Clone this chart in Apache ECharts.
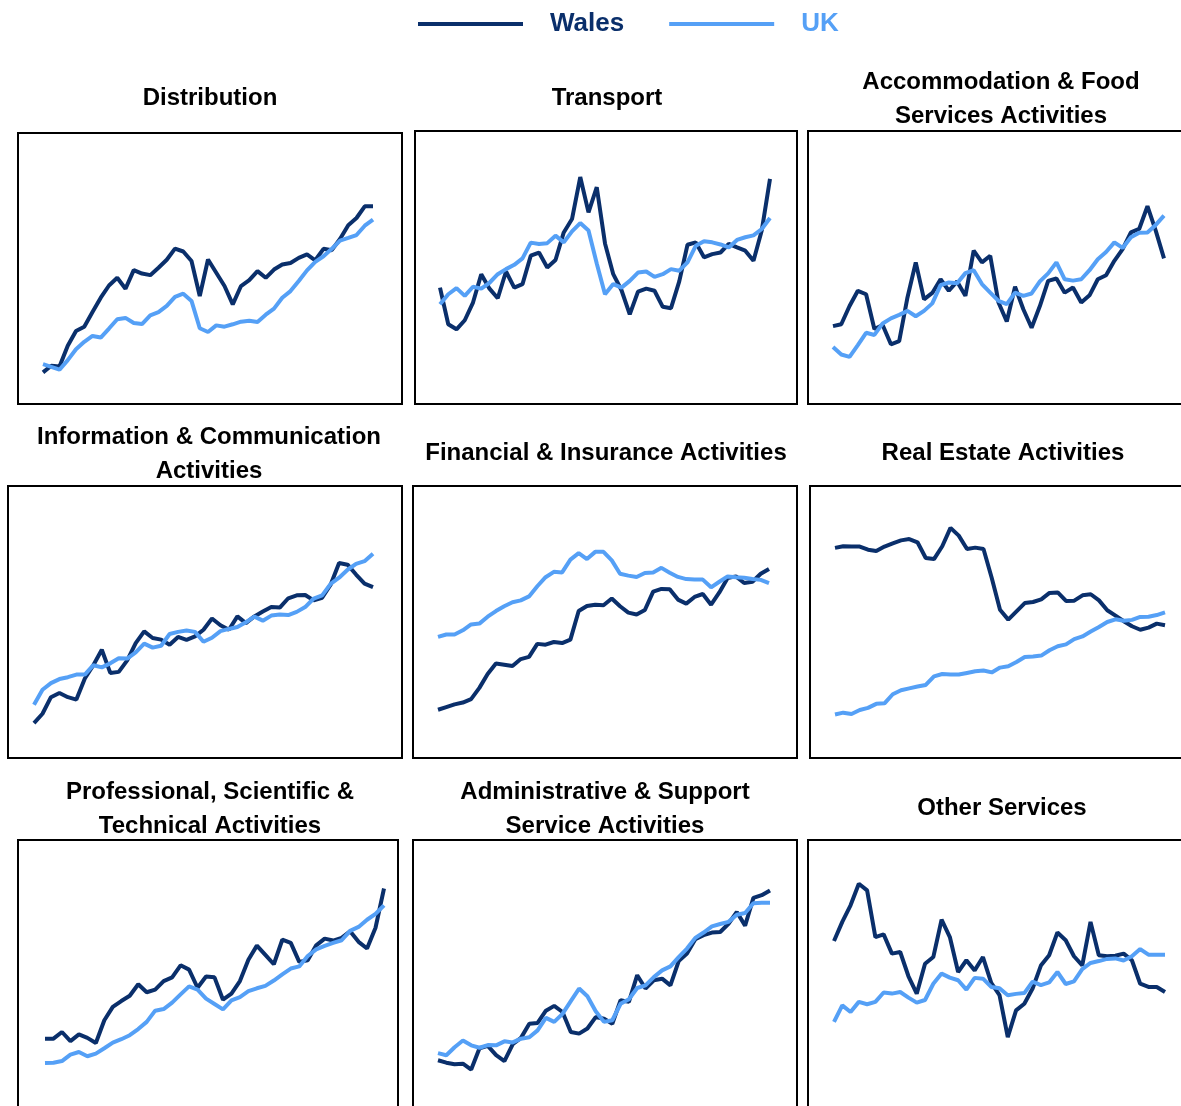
<!DOCTYPE html>
<html>
<head>
<meta charset="utf-8">
<title>Wales and UK by sector</title>
<script src="https://cdn.jsdelivr.net/npm/echarts@6/dist/echarts.min.js"></script>
<style>
  html, body { margin: 0; padding: 0; background: #fff; }
  #chart { width: 1181px; height: 1106px; }
</style>
</head>
<body>
<div id="chart"></div>
<script>
// half-yearly points, same timeline for every sector
var periods = ['1998 Q1', '1998 Q3', '1999 Q1', '1999 Q3', '2000 Q1', '2000 Q3', '2001 Q1', '2001 Q3',
  '2002 Q1', '2002 Q3', '2003 Q1', '2003 Q3', '2004 Q1', '2004 Q3', '2005 Q1', '2005 Q3',
  '2006 Q1', '2006 Q3', '2007 Q1', '2007 Q3', '2008 Q1', '2008 Q3', '2009 Q1', '2009 Q3',
  '2010 Q1', '2010 Q3', '2011 Q1', '2011 Q3', '2012 Q1', '2012 Q3', '2013 Q1', '2013 Q3',
  '2014 Q1', '2014 Q3', '2015 Q1', '2015 Q3', '2016 Q1', '2016 Q3', '2017 Q1', '2017 Q3', '2018 Q1'];

var sectors = ['Distribution', 'Transport', 'Accommodation & Food\nServices Activities',
  'Information & Communication\nActivities', 'Financial & Insurance Activities', 'Real Estate Activities',
  'Professional, Scientific &\nTechnical Activities', 'Administrative & Support\nService Activities', 'Other Services'];

// values (relative index, 0-102 range of each box)
var walesDistribution = [11.9,14.4,14.1,21.9,27.5,29.1,34.6,40,44.6,47.5,43.4,50.4,49.1,48.5,51.3,54.3,58.5,57.4,53.8,40.6,54.4,49.4,44.4,37.5,44.4,46.6,50,47.5,50.6,52.5,53.1,55,56.3,54.1,58.4,57.9,62.1,67.3,70,74.4,74.4];
var ukDistribution = [15,14,12.9,16.5,20.6,23.4,25.6,25,28.4,31.9,32.4,30.5,30.1,33.4,34.6,36.9,40.3,41.5,38.8,28.5,27.1,29.6,29.1,30,31,31.3,30.9,33.6,35.9,40,42.5,46.3,50.3,53.5,55.6,58.4,61.5,62.5,63.6,67.1,69.4];

var walesTransport = [43.5,29.8,27.9,31.3,37.9,48.5,43.1,39.5,49.5,43.5,44.8,55.4,56.6,51,53.8,64.1,69.1,84.8,71.6,81,60,48.5,42.5,33.5,42,43.1,42.3,36.3,35.8,45.8,59.5,60.4,54.8,56,56.6,59.8,58.5,57.3,53.5,64.8,84.1];
var ukTransport = [37.3,41,43.3,40.4,43.8,43.1,45.3,48.5,50.4,52,54.4,60.3,59.8,60.1,62.9,60.4,64.5,67.6,64.8,52.5,41,44.8,43.5,46,49.1,49.5,47.5,48.5,50.4,49.8,52.9,59.1,60.8,60.4,59.6,58.5,61.3,62.3,63,65.4,69.5];

var walesAccommodation = [29.1,29.8,36.6,42.3,41,28,29.5,22.3,23.5,39.8,52.9,39.1,41.5,46.6,42.3,45.8,40.4,57.3,52.9,55.4,37.9,30.8,43.8,35.4,28.5,36.6,46,46.9,41.6,43.5,37.9,40.6,46.6,48.1,53.5,57.9,64.1,65.4,73.9,64.8,54.4];
var ukAccommodation = [21.3,18.5,17.6,22,26.6,25.8,30.1,32,33.3,34.8,32.8,34.8,37.6,44.4,45.4,45.1,48.9,50,44.8,41.6,38.5,37.3,41.6,40.4,41.3,45.8,48.8,52.9,46.6,46.1,46.6,50,54.1,56.8,60.4,58.3,62.3,64,64.1,66.9,70.4];

var walesInformation = [13.1,16.6,22.8,24.4,22.8,21.9,29.8,34.8,40.6,31.9,32.3,36.6,43.1,47.5,45,44.4,42.5,45.4,44.3,45.6,48.1,52.3,49.8,48.1,53.1,50.6,53.1,54.9,56.6,56.4,59.9,61,61.1,59.1,60.1,65,73.1,72.5,68.8,65.4,64.1];
var ukInformation = [20,25.6,28.1,29.6,30.3,31.3,31.3,34.8,34,35.5,37.4,37.3,39.6,42.9,41.4,42.1,46.5,47.3,47.8,47.3,43.6,45.1,47.6,48.4,49.1,50.9,53,51.5,53.4,53.8,53.6,54.8,56.6,59.8,61,65.3,67.6,70.6,72.8,73.8,76.6];

var walesFinancial = [18.1,19.1,20.1,20.8,22.1,26.3,31.5,35.4,35,34.5,37.1,37.9,42.8,42.5,43.5,43.1,44.4,55.1,57,57.5,57.3,59.8,56.9,54.5,53.8,55.5,62.4,63.4,63.3,59.4,57.9,60.4,61.5,57.5,62.1,67.5,68.1,65.6,66.1,69.1,70.9];
var ukFinancial = [45.4,46.3,46.3,47.9,50.1,50.4,53,55.1,56.9,58.4,59.1,60.6,64.4,67.8,69.8,69.6,74.4,76.8,74.6,77.3,77.3,74.1,69.1,68.4,67.9,69.4,69.6,71.3,69.5,67.9,67.1,66.9,66.9,64,66.1,68.1,67.8,67.6,67.1,66.8,65.6];

var walesRealEstate = [78.8,79.4,79.3,79.3,78.1,77.6,79.3,80.5,81.6,82.1,80.9,75,74.6,79.4,86.3,83.4,78.4,78.9,78.4,67.5,55.6,51.9,55,58.1,58.5,59.5,61.9,62.1,58.9,59,61,61.4,59.1,55.4,53.4,51.3,49.4,48.1,48.9,50.4,49.8];
var ukRealEstate = [16.3,17,16.5,18,18.8,20.3,20.5,23.9,25.4,26.1,26.8,27.4,30.6,31.5,31.3,31.3,31.9,32.5,32.8,32.1,33.9,34.4,36,37.9,38.1,38.4,40.4,41.9,42.6,44.6,45.6,47.4,49.1,51,52,51.5,51.8,52.9,53,53.6,54.6];

var walesProfessional = [27.5,27.5,30,26.6,29.1,27.8,25.9,34.4,39.4,41.6,43.6,47.9,44.9,45.9,49.1,50.5,55,53.4,46.6,50.8,50.5,42.1,44.4,49.1,57.1,62.4,58.9,55.4,64.6,63.4,56.3,56.9,62.5,65,64.3,65.3,67.8,63.8,61.3,69.1,83.8];
var ukProfessional = [18.4,18.5,19.1,21.5,22.5,20.9,21.9,23.9,26,27.3,28.8,31.1,33.8,38,38.6,41,44.1,47.1,45.9,42.5,40.5,38.5,41.9,43.1,45.3,46.4,47.3,49.3,51.6,53.8,54.6,58.5,61,62.3,63.4,64.4,67.9,69.4,72.1,74.3,77.5];

var walesAdministrative = [19.4,18.5,17.9,18.1,15.9,23.9,24.8,21.3,19.1,25.4,27.8,33.1,33.4,38,39.8,37.5,30,29.4,31.3,35.6,35,33.1,41.9,41.3,51.3,46.3,49.4,50,47.5,56.6,59.4,64.8,66.3,67.3,67.5,70.6,75,69.9,80.3,81.3,83.1];
var ukAdministrative = [22.1,21.3,24.3,26.8,25,24.1,25.1,25,26.5,26.1,27.5,28,30.6,35.3,33.8,36.8,41.6,46.3,43.4,37.8,33.8,34.4,40.6,42.3,46.5,47.5,50.6,53.1,54.6,58.1,61.3,65.3,67.3,69.6,70.5,71.3,74,74.6,78.3,78.5,78.5];

var walesOther = [64.1,71.3,77.5,85.6,83.1,65.6,66.6,59.4,60,50.9,44.4,55.6,58.1,72.1,65.6,52.5,56.9,53.1,58.1,48.4,43.8,28.1,38.1,40.6,46.3,54.9,58.8,67.3,64.4,58.4,55,71.3,58.8,58.4,58.6,59.4,56.9,48.1,46.9,46.9,45];
var ukOther = [33.8,40,37.5,41.3,40.4,41.3,44.8,44.4,45,42.9,41,42,48.1,51.9,50.4,49.4,45.9,50.3,50,46.9,46.4,43.8,44.3,44.6,48.9,47.6,48.6,52.5,48,49,53.6,55.9,56.6,57.4,57.6,56.8,58.4,61.1,59,59,59];

var walesData = [walesDistribution, walesTransport, walesAccommodation, walesInformation, walesFinancial,
  walesRealEstate, walesProfessional, walesAdministrative, walesOther];
var ukData = [ukDistribution, ukTransport, ukAccommodation, ukInformation, ukFinancial,
  ukRealEstate, ukProfessional, ukAdministrative, ukOther];

var WALES = '#0a2f6b';
var UK = '#55a0f6';

// panel boxes [left, top, width, height], inner gap of the lines [left, right], title centre [x, top]
var panels = [
  {box: [18, 133, 384, 271], inset: [25, 29], title: [210, 81]},
  {box: [415, 131, 382, 273], inset: [25, 27], title: [607, 81]},
  {box: [808, 131, 384, 273], inset: [25, 28], title: [1001, 65]},
  {box: [8, 486, 394, 272], inset: [26, 29], title: [209, 420]},
  {box: [413, 486, 384, 272], inset: [25, 28], title: [606, 436]},
  {box: [810, 486, 384, 272], inset: [25, 29], title: [1003, 436]},
  {box: [18, 840, 380, 272], inset: [27, 14], title: [210, 775]},
  {box: [413, 840, 384, 272], inset: [25, 27], title: [605, 775]},
  {box: [808, 840, 384, 272], inset: [26, 27], title: [1002, 791]}
];

var chart = echarts.init(document.getElementById('chart'));

var grids = [], xAxes = [], yAxes = [], series = [], titles = [], boxes = [];
panels.forEach(function (p, k) {
  grids.push({
    left: p.box[0] + p.inset[0],
    top: p.box[1],
    width: p.box[2] - p.inset[0] - p.inset[1],
    height: p.box[3],
    outerBoundsMode: 'none'
  });
  xAxes.push({type: 'category', gridIndex: k, data: periods, boundaryGap: false, show: false});
  yAxes.push({type: 'value', gridIndex: k, min: 0, max: 102, show: false});
  series.push({
    name: 'Wales', type: 'line', xAxisIndex: k, yAxisIndex: k, data: walesData[k],
    symbol: 'none', color: WALES, lineStyle: {width: 4, color: WALES}
  });
  series.push({
    name: 'UK', type: 'line', xAxisIndex: k, yAxisIndex: k, data: ukData[k],
    symbol: 'none', color: UK, lineStyle: {width: 4, color: UK}
  });
  titles.push({
    text: sectors[k], left: p.title[0], top: p.title[1], textAlign: 'center', padding: 0,
    textStyle: {fontFamily: 'Liberation Sans', fontWeight: 'bold', fontSize: 24, lineHeight: 34, color: '#000'}
  });
  boxes.push({
    type: 'rect', z: 0,
    shape: {x: p.box[0], y: p.box[1], width: p.box[2], height: p.box[3]},
    style: {fill: 'none', stroke: '#000', lineWidth: 2}
  });
});

chart.setOption({
  animation: false,
  backgroundColor: '#fff',
  title: titles,
  legend: {
    left: 418, top: 11, padding: 0,
    icon: 'rect', itemWidth: 105, itemHeight: 4, itemGap: 45,
    textStyle: {fontFamily: 'Liberation Sans', fontWeight: 'bold', fontSize: 26, padding: [0, 0, 0, 22]},
    data: [
      {name: 'Wales', textStyle: {color: WALES}},
      {name: 'UK', textStyle: {color: UK}}
    ]
  },
  grid: grids,
  xAxis: xAxes,
  yAxis: yAxes,
  graphic: boxes,
  series: series
});
</script>
</body>
</html>
